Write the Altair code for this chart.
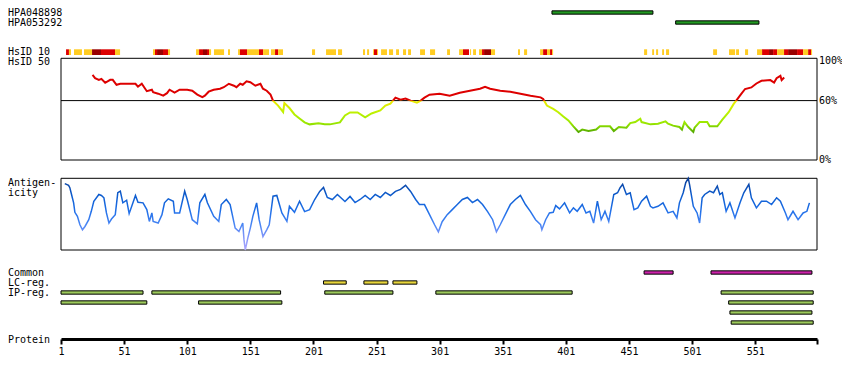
import altair as alt
import pandas as pd

FONT = "DejaVu Sans Mono"
protein_len = 600
tick_values = [1, 51, 101, 151, 201, 251, 301, 351, 401, 451, 501, 551, 600]

# Antibody (HPA) bars
hpa_names = ["HPA048898", "HPA053292"]
hpa_start = [390, 488]
hpa_end = [470, 554]

# HsID 10 strip (start, end, level)
strip_start = [5.0, 7.3, 11.3, 19.2, 25.6, 32.7, 43.8, 73.9, 75.5, 77.1, 81.8, 85.8,
               108.0, 110.4, 113.5, 116.7, 118.3, 122.2, 133.3, 141.3, 142.8, 148.4, 157.9,
               161.1, 167.4, 170.6, 173.0, 199.9, 211.0, 220.5, 240.3, 243.5, 248.3, 249.0,
               251.4, 254.6, 260.9, 266.5, 272.0, 276.0, 285.5, 293.4, 306.9, 316.4, 319.5,
               325.1, 327.5, 332.2, 334.6, 336.2, 341.7, 363.1, 367.9, 380.6, 383.0, 386.1,
               388.5, 390.1, 463.0, 469.4, 472.5, 477.3, 480.4, 517.7, 530.3, 535.9, 543.0,
               552.5, 556.5, 562.0, 565.2, 568.4, 573.9, 577.1, 584.2, 589.0, 593.0, 595.3]
strip_end = [7.3, 8.9, 17.6, 25.6, 32.7, 43.8, 47.8, 75.5, 77.1, 81.8, 85.8, 87.4,
             110.4, 113.5, 116.7, 118.3, 119.9, 130.2, 134.9, 142.8, 148.4, 157.9, 161.1,
             165.8, 170.6, 173.0, 176.9, 202.3, 218.9, 223.7, 241.9, 245.1, 249.0, 251.4,
             252.2, 259.3, 264.1, 268.8, 274.4, 278.3, 289.4, 297.4, 309.2, 319.5, 324.3,
             325.9, 329.8, 334.6, 336.2, 341.7, 344.9, 364.7, 370.3, 383.0, 386.1, 388.5,
             390.1, 390.9, 465.4, 470.9, 474.1, 478.8, 482.8, 520.8, 535.1, 538.2, 545.4,
             556.5, 562.0, 565.2, 568.4, 573.9, 577.1, 584.2, 589.0, 593.0, 595.3, 596.1]
strip_level = ["R", "Y", "Y", "Y", "D", "R", "Y", "Y", "R", "D", "R", "Y",
               "Y", "R", "D", "R", "Y", "Y", "Y", "Y", "R", "Y", "R",
               "Y", "Y", "R", "Y", "Y", "Y", "Y", "Y", "Y", "Y", "R",
               "Y", "Y", "Y", "Y", "Y", "Y", "Y", "Y", "Y", "Y", "R",
               "Y", "Y", "Y", "R", "D", "Y", "Y", "Y", "Y", "R", "Y",
               "R", "Y", "Y", "Y", "Y", "Y", "Y", "Y", "Y", "Y", "Y",
               "Y", "R", "D", "R", "Y", "R", "D", "R", "Y", "R", "Y"]

# HsID 50 (% identity)
hs_res = [26, 28, 31, 33, 36, 40, 42, 45, 48, 53, 60, 62, 65, 69, 73, 74, 78, 82, 85, 87, 91, 95,
          101, 105, 109, 113, 115, 118, 122, 127, 130, 134, 138, 140, 143, 145, 148, 151, 155,
          159, 161, 164, 167, 169, 173, 177, 178, 182, 186, 190, 194, 198, 205, 210, 214, 222,
          226, 230, 236, 242, 247, 254, 258, 262, 266, 270, 274, 278, 283, 286, 289, 293, 301,
          309, 317, 325, 333, 337, 341, 349, 357, 365, 373, 381, 383, 386, 391, 395, 399, 403,
          407, 411, 414, 419, 425, 428, 436, 439, 443, 449, 452, 456, 460, 461, 468, 474, 480,
          482, 486, 491, 493, 495, 498, 502, 503, 507, 513, 515, 521, 525, 530, 534, 536, 540,
          543, 548, 552, 556, 563, 566, 568, 571, 572, 574]
hs_pct = [86, 82.7, 81, 82, 78, 81, 81, 76, 77, 77, 77, 74, 77, 69.5, 71, 68.5, 67, 65, 67.5, 71, 68, 71,
          71, 70, 66, 63.5, 65, 69, 71, 72, 73.5, 77, 75, 73.5, 77, 76, 79.5, 78.5, 75,
          77, 72, 70, 66, 60, 55, 48.5, 57.5, 52.5, 46, 42, 38, 36, 37, 36, 36, 38,
          45, 48, 48, 43, 47, 50, 55, 57, 63, 61, 62, 60, 58, 60, 63, 66, 67,
          65, 68, 70, 72, 74, 72, 70, 69, 67, 65, 63.3, 61.7, 55, 51.7, 48.3, 44, 40,
          34, 28.3, 30.7, 29.3, 30.7, 34, 34, 29.3, 33.3, 32.7, 37.3, 38.3, 41.7, 38.3, 36, 36.7, 39,
          36.7, 34.7, 33.3, 30.7, 38.3, 33.3, 28.3, 32.7, 38.3, 38.3, 34, 34, 40.7, 48.3, 56.7, 60, 66.7,
          71.7, 73.3, 77.3, 80, 80.7, 78.3, 82.7, 85, 80.7, 83.3]
hs_ticks = [100, 60, 0]
hs_tick_labels = ["100%", "60%", "0%"]
hs_threshold = 60

# Antigenicity
ag_res = [4, 7, 8, 9, 11, 12, 14, 16, 18, 20, 23, 25, 27, 31, 33, 35, 37, 39, 41, 44, 46, 48, 50, 53,
          55, 58, 60, 62, 66, 69, 71, 73, 74, 78, 81, 83, 86, 90, 91, 95, 99, 101, 105, 109, 111,
          115, 117, 122, 126, 128, 132, 135, 139, 142, 145, 146, 147, 149, 151, 153, 156, 158, 161,
          164, 166, 169, 172, 176, 180, 182, 186, 190, 194, 198, 202, 206, 209, 212, 216, 220, 226,
          230, 234, 238, 242, 246, 250, 254, 258, 262, 266, 270, 274, 278, 282, 285, 289, 293, 297,
          300, 303, 307, 311, 315, 319, 323, 327, 331, 335, 339, 343, 346, 349, 353, 357, 361, 365,
          369, 373, 377, 381, 382, 385, 388, 391, 393, 396, 400, 404, 407, 410, 414, 417, 420, 423,
          426, 429, 432, 435, 439, 442, 444, 446, 449, 452, 455, 458, 461, 465, 468, 470, 474, 478,
          482, 486, 489, 491, 494, 496, 498, 499, 502, 505, 507, 509, 511, 515, 518, 521, 523, 525,
          528, 531, 535, 539, 542, 546, 548, 552, 556, 560, 564, 568, 571, 575, 577, 581, 585, 589,
          592, 594]
ag_val = [65.7, 64, 61.7, 56.7, 46.7, 37.3, 33.3, 25, 20, 23.3, 30, 38.3, 48.3, 55, 54, 51.7, 36.7,
          26.7, 30.7, 35, 56.7, 58.3, 46.7, 49.3, 36, 46.7, 54, 47.3, 46.7, 40, 28.3, 36.7, 28.3, 26.7,
          35, 46.7, 50.7, 48.3, 36.7, 36.7, 58.3, 50, 30, 26, 46.7, 55, 46.7, 33.3, 28.3, 45, 50, 45,
          21.7, 18.3, 26.7, 10, 0, 11.7, 21.7, 33.3, 46.7, 30, 13.3, 20, 25, 53.3, 54, 36.7, 28.3,
          43.3, 37.3, 48.3, 38, 40, 50, 58, 62, 52, 50, 55, 48, 53, 47, 50, 54, 50, 55, 52, 57, 54,
          58, 60, 64, 58, 50, 45, 45, 35, 25, 18, 28, 35, 40, 45, 50, 52, 47, 50, 45, 38, 30, 18,
          25, 35, 45, 50, 54, 45, 38, 30, 25, 20, 30, 36.7, 37.3, 44, 40.7, 46.7, 36.7, 41.7, 38.3,
          45, 36.7, 38.3, 26.7, 48.3, 30, 38.3, 28.3, 55, 56.7, 61.7, 65, 55, 56.7, 40, 41.7, 48.3,
          53.3, 43.3, 41.7, 43.3, 46.7, 36.7, 38.3, 31.7, 46.7, 56.7, 66.7, 71, 65, 43.3, 36.7, 26.7,
          51.7, 55, 58.3, 56.7, 63.3, 55, 56.7, 38.3, 46.7, 31.7, 46.7, 56.7, 65, 51.7, 41.7, 48.3,
          48.3, 45, 51.7, 48.3, 36.7, 30, 38.3, 30, 36.7, 38.3, 46.7]

# Feature tracks
track_rows = ["Common", "LC-reg.", "IP-reg.", "IP-reg. 2", "IP-reg. 3", "IP-reg. 4"]
track_labels = ["Common", "LC-reg.", "IP-reg."]
common_start = [463, 516]
common_end = [486, 596]
lc_start = [209, 241, 264]
lc_end = [227, 260, 283]
ip_lane = [1, 1, 1, 1, 1, 2, 2, 2, 3, 4]
ip_start = [1, 73, 210, 298, 524, 1, 110, 530, 531, 532]
ip_end = [66, 175, 264, 406, 597, 69, 176, 597, 596, 597]

# ---------------- tables ----------------
hpa_df = pd.DataFrame({"name": hpa_names, "start": hpa_start, "end": hpa_end})
strip_df = pd.DataFrame({"start": strip_start, "end": strip_end, "level": strip_level, "track": "HsID 10"})
hs_df = pd.DataFrame({"res": hs_res, "pct": hs_pct})
hs_lab_df = pd.DataFrame({"v": hs_ticks, "t": hs_tick_labels})
frame_df = pd.DataFrame({"start": [1], "end": [protein_len], "thr": [hs_threshold]})
ag_df = pd.DataFrame({"res": ag_res, "val": ag_val})
rows = []
for s, e in zip(common_start, common_end):
    rows.append({"row": "Common", "kind": "Common", "start": s, "end": e})
for s, e in zip(lc_start, lc_end):
    rows.append({"row": "LC-reg.", "kind": "LC-reg.", "start": s, "end": e})
for l, s, e in zip(ip_lane, ip_start, ip_end):
    rows.append({"row": "IP-reg." if l == 1 else f"IP-reg. {l}", "kind": "IP-reg.", "start": s, "end": e})
track_df = pd.DataFrame(rows)
track_lab_df = pd.DataFrame({"row": track_labels})
one = pd.DataFrame({"a": [0]})

W, H = 756, 370
LBL_X = -53

xscale = alt.Scale(domain=[1, protein_len], nice=False, zero=False)
xaxis = alt.Axis(values=tick_values, format="d",
                 labelExpr=f"datum.value == {protein_len} ? '' : datum.label",
                 orient="bottom", offset=-39, domainWidth=3, domainColor="black",
                 tickColor="black", tickWidth=2, tickSize=5, labelFont=FONT, labelFontSize=10,
                 labelColor="black", labelPadding=2, grid=False, title=None,
                 labelFlush=False, labelOverlap=False)


def X(field):
    return alt.X(field, type="quantitative", scale=xscale, axis=xaxis)


def label(text, y):
    return alt.Chart(one).mark_text(align="left", baseline="middle", font=FONT, fontSize=10,
                                    color="black", text=text).encode(x=alt.value(LBL_X), y=alt.value(y))


# HPA group
hpa_y = alt.Y("name:N", scale=alt.Scale(domain=hpa_names, range=[-0.5, 19.5], paddingInner=0.67,
                                        paddingOuter=0.335), axis=None)
g_hpa = alt.layer(
    alt.Chart(hpa_df).mark_rect(fill="#229922", stroke="black", strokeWidth=1).encode(
        x=X("start"), x2="end:Q", y=hpa_y),
    alt.Chart(hpa_df).mark_text(align="left", baseline="middle", font=FONT, fontSize=10, color="black").encode(
        x=alt.value(LBL_X), y=hpa_y, text="name:N"),
)

# HsID 10 strip
strip_y = alt.Y("track:N", scale=alt.Scale(domain=["HsID 10"], range=[41.3, 47], paddingInner=0,
                                           paddingOuter=0), axis=None)
g_strip = alt.layer(
    alt.Chart(strip_df).mark_rect().encode(
        x=X("start"), x2="end:Q", y=strip_y,
        color=alt.Color("level:N", scale=alt.Scale(domain=["Y", "R", "D"],
                                                   range=["#ffcc22", "#dd0000", "#990000"]), legend=None)),
    alt.Chart(strip_df.head(1)).mark_text(align="left", baseline="middle", font=FONT, fontSize=10,
                                          color="black").encode(x=alt.value(LBL_X), y=strip_y, text="track:N"),
)

# HsID 50 panel
hs_scale = alt.Scale(domain=[0, 100], range=[152, 53], nice=False, zero=False)
hs_grad = alt.LinearGradient(gradient="linear", x1=0, x2=0, y1=0, y2=1, stops=[
    alt.GradientStop(offset=0, color="#dd0000"),
    alt.GradientStop(offset=0.447, color="#dd0000"),
    alt.GradientStop(offset=0.453, color="#eeea00"),
    alt.GradientStop(offset=0.6, color="#ccf000"),
    alt.GradientStop(offset=0.72, color="#b0f000"),
    alt.GradientStop(offset=0.85, color="#99e600"),
    alt.GradientStop(offset=0.93, color="#77cc00"),
    alt.GradientStop(offset=1, color="#55aa00"),
])
g_hs = alt.layer(
    alt.Chart(frame_df).mark_rect(fillOpacity=0, stroke="black", strokeWidth=1).encode(
        x=X("start"), x2="end:Q", y=alt.value(50.3), y2=alt.value(152)),
    alt.Chart(frame_df).mark_rule(color="black", strokeWidth=1).encode(
        x=X("start"), x2="end:Q", y=alt.Y("thr:Q", scale=hs_scale, axis=None)),
    alt.Chart(hs_df).mark_line(stroke=hs_grad, strokeWidth=2).encode(
        x=X("res"), y=alt.Y("pct:Q", scale=hs_scale, axis=None)),
    alt.Chart(hs_lab_df).mark_text(align="left", baseline="middle", font=FONT, fontSize=10, color="black").encode(
        x=alt.value(W + 2), y=alt.Y("v:Q", scale=hs_scale, axis=None), text="t:N"),
    label("HsID 50", 54.3),
)

# Antigenicity panel
ag_scale = alt.Scale(domain=[0, 71], range=[242, 170.3], nice=False, zero=False)
ag_grad = alt.LinearGradient(gradient="linear", x1=0, x2=0, y1=0, y2=1, stops=[
    alt.GradientStop(offset=0, color="#0b3f99"),
    alt.GradientStop(offset=0.25, color="#0d5dd0"),
    alt.GradientStop(offset=0.45, color="#1f6fe8"),
    alt.GradientStop(offset=0.65, color="#4a86f4"),
    alt.GradientStop(offset=0.8, color="#7c94f8"),
    alt.GradientStop(offset=1, color="#b0a8ff"),
])
g_ag = alt.layer(
    alt.Chart(frame_df).mark_rect(fillOpacity=0, stroke="black", strokeWidth=1).encode(
        x=X("start"), x2="end:Q", y=alt.value(170.3), y2=alt.value(242)),
    alt.Chart(ag_df).mark_line(stroke=ag_grad, strokeWidth=1.5).encode(
        x=X("res"), y=alt.Y("val:Q", scale=ag_scale, axis=None)),
    label("Antigen-", 174.7),
    label("icity", 184.7),
)

# Feature tracks
tr_y = alt.Y("row:N", scale=alt.Scale(domain=track_rows, range=[259.5, 319.5], paddingInner=0.67,
                                      paddingOuter=0.335), axis=None)
g_tr = alt.layer(
    alt.Chart(track_df).mark_rect(stroke="black", strokeWidth=1).encode(
        x=X("start"), x2="end:Q", y=tr_y,
        color=alt.Color("kind:N", scale=alt.Scale(domain=["Common", "LC-reg.", "IP-reg."],
                                                  range=["#cc22aa", "#e8d63c", "#9dca5c"]), legend=None)),
    alt.Chart(track_lab_df).mark_text(align="left", baseline="middle", font=FONT, fontSize=10,
                                      color="black").encode(x=alt.value(LBL_X), y=tr_y, text="row:N"),
    label("Protein", 332),
)

chart = alt.layer(g_hpa, g_strip, g_hs, g_ag, g_tr).resolve_scale(
    y="independent", color="independent"
).properties(
    width=W, height=H, autosize="none",
    padding={"left": 53, "right": 25, "top": 0, "bottom": 2},
).configure_view(strokeWidth=0)

chart.save("out.html", embed_options={"renderer": "svg", "actions": False})
